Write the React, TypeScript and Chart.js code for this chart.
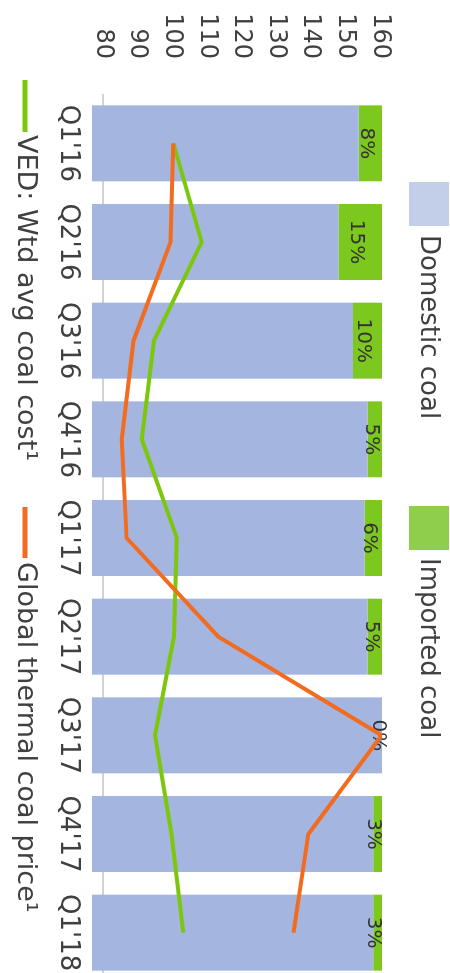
import React, { useEffect, useRef } from "react";
import { Chart, registerables } from "chart.js";

Chart.register(...registerables);

const categories = ["Q1'16", "Q2'16", "Q3'16", "Q4'16", "Q1'17", "Q2'17", "Q3'17", "Q4'17", "Q1'18"];
const domesticPct = [92, 85, 90, 95, 94, 95, 100, 97, 97];
const importedPct = [8, 15, 10, 5, 6, 5, 0, 3, 3];
const vedCost = [100.3, 108.5, 94.7, 91.2, 101.3, 100.5, 95, 99.8, 103.2];
const globalPrice = [100.3, 99.5, 88.8, 85.4, 86.8, 113.3, 160.5, 139.3, 135];
const yTicks = [80, 90, 100, 110, 120, 130, 140, 150, 160];

const FONT = '"DejaVu Sans", Verdana, sans-serif';
const TEXT = "#404040";
const DOMESTIC = "#a4b5df";
const IMPORTED = "#7dc81e";
const DOMESTIC_LEG = "#c3cfe9";
const IMPORTED_LEG = "#8fce4c";
const VED_COLOR = "#7cc70c";
const GLOBAL_COLOR = "#f26b1f";

const overlayPlugin = {
  id: "overlay",
  afterDatasetDraw(chart: any, args: any) {
    if (args.index !== 0) return;
    const ctx = chart.ctx;
    const meta = chart.getDatasetMeta(1);
    ctx.save();
    ctx.font = `20px ${FONT}`;
    ctx.fillStyle = "#333333";
    ctx.textAlign = "center";
    ctx.textBaseline = "middle";
    meta.data.forEach((el: any, i: number) => {
      const p = el.getProps(["x", "y", "base"], true);
      ctx.fillText(importedPct[i] + "%", p.x, (p.y + p.base) / 2 + 4);
    });
    ctx.restore();
  },
  afterDraw(chart: any) {
    const ctx = chart.ctx;
    ctx.save();
    // top legend
    ctx.textBaseline = "middle";
    ctx.textAlign = "left";
    ctx.font = `26px ${FONT}`;
    ctx.fillStyle = DOMESTIC_LEG;
    ctx.fillRect(182, 1, 44, 40);
    ctx.fillStyle = TEXT;
    ctx.fillText("Domestic coal", 235, 22);
    ctx.fillStyle = IMPORTED_LEG;
    ctx.fillRect(506, 1, 44, 40);
    ctx.fillStyle = TEXT;
    ctx.fillText("Imported coal", 558, 22);
    // bottom legend
    ctx.font = `27px ${FONT}`;
    ctx.lineWidth = 5;
    ctx.strokeStyle = VED_COLOR;
    ctx.beginPath();
    ctx.moveTo(80, 425);
    ctx.lineTo(132, 425);
    ctx.stroke();
    ctx.fillStyle = TEXT;
    ctx.fillText("VED: Wtd avg coal cost\u00b9", 135, 425);
    ctx.strokeStyle = GLOBAL_COLOR;
    ctx.beginPath();
    ctx.moveTo(507, 425);
    ctx.lineTo(558, 425);
    ctx.stroke();
    ctx.fillText("Global thermal coal price\u00b9", 562, 425);
    ctx.restore();
  },
};

export default function App() {
  const ref = useRef<HTMLCanvasElement | null>(null);

  useEffect(() => {
    if (!ref.current) return;
    const chart = new Chart(ref.current, {
      type: "bar",
      data: {
        labels: categories,
        datasets: [
          {
            type: "bar",
            label: "Domestic coal",
            data: domesticPct,
            backgroundColor: DOMESTIC,
            yAxisID: "y2",
            stack: "coal",
            order: 2,
            categoryPercentage: 1,
            barPercentage: 0.77,
          },
          {
            type: "bar",
            label: "Imported coal",
            data: importedPct,
            backgroundColor: IMPORTED,
            yAxisID: "y2",
            stack: "coal",
            order: 3,
            categoryPercentage: 1,
            barPercentage: 0.77,
          },
          {
            type: "line",
            label: "VED: Wtd avg coal cost\u00b9",
            data: vedCost,
            borderColor: VED_COLOR,
            borderWidth: 4,
            pointRadius: 0,
            tension: 0,
            yAxisID: "y",
            order: 1,
          },
          {
            type: "line",
            label: "Global thermal coal price\u00b9",
            data: globalPrice,
            borderColor: GLOBAL_COLOR,
            borderWidth: 4,
            pointRadius: 0,
            tension: 0,
            yAxisID: "y",
            order: 0,
          },
        ],
      } as any,
      options: {
        animation: false,
        responsive: false,
        layout: { padding: { top: 68, right: 8, left: 0, bottom: 0 } },
        plugins: {
          legend: { display: false },
          tooltip: { enabled: false },
        },
        scales: {
          x: {
            stacked: true,
            grid: { display: false, drawTicks: false },
            border: { display: false },
            ticks: {
              color: TEXT,
              font: { family: FONT, size: 26 },
              padding: 9,
              maxRotation: 0,
              autoSkip: false,
            },
            afterFit: (s: any) => {
              s.height = 92;
            },
          },
          y: {
            position: "left",
            min: 76.8,
            max: 160.6,
            z: 1,
            afterBuildTicks: (s: any) => {
              s.ticks = yTicks.map((v) => ({ value: v }));
            },
            afterFit: (s: any) => {
              s.width = 94;
            },
            grid: {
              drawTicks: false,
              lineWidth: 2,
              color: (c: any) => (c.tick && c.tick.value === 80 ? "rgba(205,205,205,0.9)" : "rgba(0,0,0,0)"),
            },
            border: { display: false },
            ticks: {
              color: TEXT,
              font: { family: FONT, size: 24 },
              padding: 35,
            },
          },
          y2: {
            display: false,
            stacked: true,
            min: 0,
            max: 100,
          },
        },
      } as any,
      plugins: [overlayPlugin],
    });
    return () => chart.destroy();
  }, []);

  return (
    <div
      style={{
        position: "fixed",
        left: 0,
        top: 0,
        width: 450,
        height: 973,
        overflow: "hidden",
        background: "#ffffff",
      }}
    >
      <div
        style={{
          position: "absolute",
          left: 0,
          top: 0,
          width: 990,
          height: 450,
          transformOrigin: "0 0",
          transform: "translateX(450px) rotate(90deg)",
        }}
      >
        <canvas ref={ref} width={990} height={450} style={{ display: "block" }} />
      </div>
    </div>
  );
}
